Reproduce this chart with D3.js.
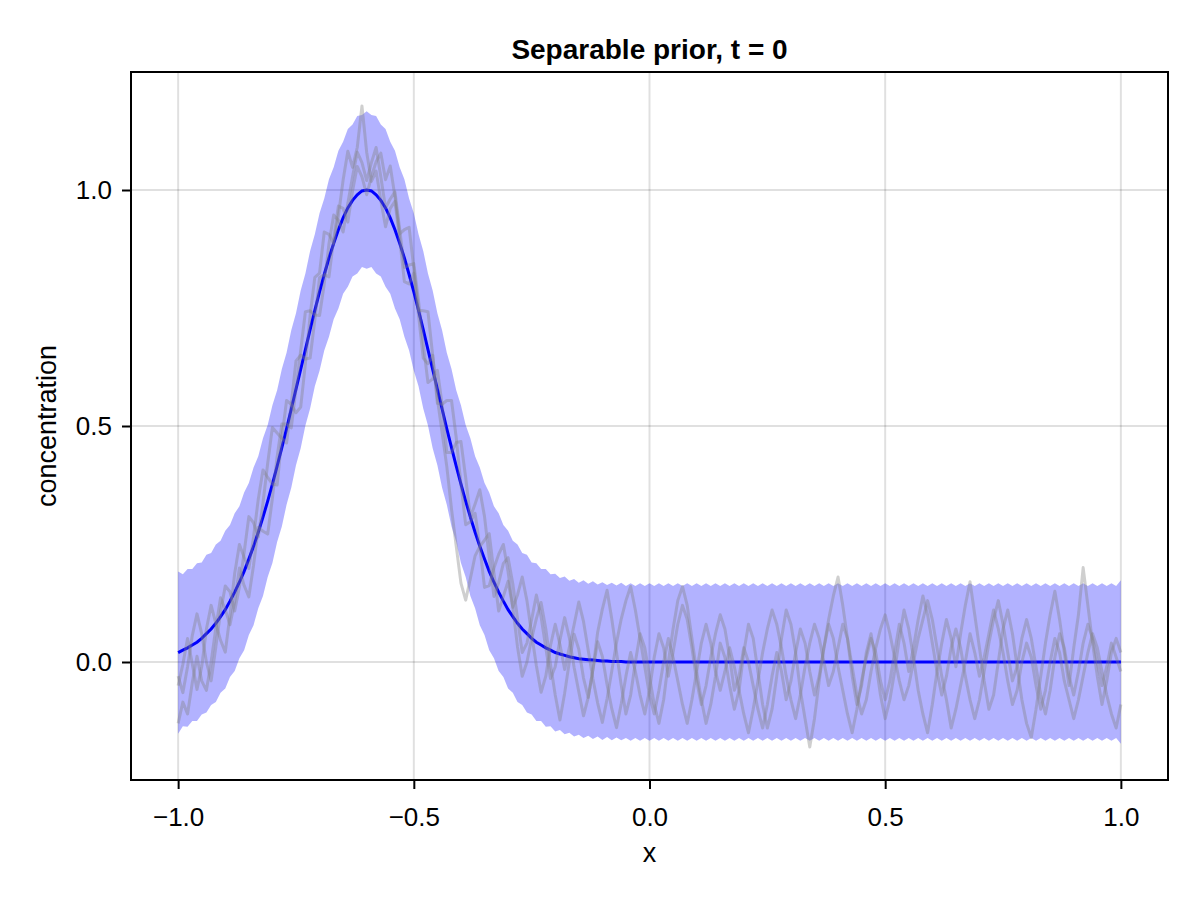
<!DOCTYPE html>
<html>
<head>
<meta charset="utf-8">
<script src="https://cdn.jsdelivr.net/npm/d3@7"></script>
<style>
  body { margin: 0; background: #fff; }
  text { font-family: "Liberation Sans", Arial, Helvetica, sans-serif; }
</style>
</head>
<body>
<script>
// x grid of the field, 201 nodes on [-1, 1]
const xGrid = d3.range(201).map(i => -1 + i * 0.01);

// prior mean
const meanValues = [
  0.020, 0.025, 0.030, 0.036, 0.042, 0.050, 0.060, 0.070, 0.082, 0.096,
  0.111, 0.129, 0.148, 0.169, 0.192, 0.218, 0.245, 0.275, 0.307, 0.341,
  0.377, 0.415, 0.454, 0.494, 0.536, 0.578, 0.620, 0.662, 0.704, 0.745,
  0.784, 0.821, 0.856, 0.887, 0.916, 0.941, 0.962, 0.978, 0.990, 0.998,
  1.000, 0.998, 0.990, 0.978, 0.962, 0.941, 0.916, 0.887, 0.856, 0.821,
  0.784, 0.745, 0.704, 0.662, 0.620, 0.578, 0.536, 0.494, 0.454, 0.415,
  0.377, 0.341, 0.307, 0.275, 0.245, 0.218, 0.192, 0.169, 0.148, 0.129,
  0.111, 0.096, 0.082, 0.070, 0.060, 0.050, 0.042, 0.036, 0.030, 0.025,
  0.020, 0.017, 0.014, 0.011, 0.009, 0.007, 0.006, 0.005, 0.004, 0.003,
  0.002, 0.002, 0.001, 0.001, 0.001, 0, 0, 0, 0, 0,
  0, 0, 0, 0, 0, 0, 0, 0, 0, 0,
  0, 0, 0, 0, 0, 0, 0, 0, 0, 0,
  0, 0, 0, 0, 0, 0, 0, 0, 0, 0,
  0, 0, 0, 0, 0, 0, 0, 0, 0, 0,
  0, 0, 0, 0, 0, 0, 0, 0, 0, 0,
  0, 0, 0, 0, 0, 0, 0, 0, 0, 0,
  0, 0, 0, 0, 0, 0, 0, 0, 0, 0,
  0, 0, 0, 0, 0, 0, 0, 0, 0, 0,
  0, 0, 0, 0, 0, 0, 0, 0, 0, 0,
  0, 0, 0, 0, 0, 0, 0, 0, 0, 0,
  0
];

// half width of the shaded band (zigzags node to node)
const bandHalfWidth = [
  0.172, 0.161, 0.167, 0.161, 0.167, 0.161, 0.167, 0.161, 0.167, 0.161,
  0.167, 0.161, 0.167, 0.161, 0.167, 0.161, 0.167, 0.161, 0.167, 0.161,
  0.167, 0.161, 0.167, 0.161, 0.167, 0.161, 0.167, 0.161, 0.167, 0.161,
  0.167, 0.161, 0.167, 0.161, 0.167, 0.161, 0.167, 0.161, 0.167, 0.161,
  0.167, 0.161, 0.167, 0.161, 0.167, 0.161, 0.167, 0.161, 0.167, 0.161,
  0.167, 0.161, 0.167, 0.161, 0.167, 0.161, 0.167, 0.161, 0.167, 0.161,
  0.167, 0.161, 0.167, 0.161, 0.167, 0.161, 0.167, 0.161, 0.167, 0.161,
  0.167, 0.161, 0.167, 0.161, 0.167, 0.161, 0.167, 0.161, 0.167, 0.161,
  0.167, 0.161, 0.167, 0.161, 0.167, 0.161, 0.167, 0.161, 0.167, 0.161,
  0.167, 0.161, 0.167, 0.161, 0.167, 0.161, 0.167, 0.161, 0.167, 0.161,
  0.167, 0.161, 0.167, 0.161, 0.167, 0.161, 0.167, 0.161, 0.167, 0.161,
  0.167, 0.161, 0.167, 0.161, 0.167, 0.161, 0.167, 0.161, 0.167, 0.161,
  0.167, 0.161, 0.167, 0.161, 0.167, 0.161, 0.167, 0.161, 0.167, 0.161,
  0.167, 0.161, 0.167, 0.161, 0.167, 0.161, 0.167, 0.161, 0.167, 0.161,
  0.167, 0.161, 0.167, 0.161, 0.167, 0.161, 0.167, 0.161, 0.167, 0.161,
  0.167, 0.161, 0.167, 0.161, 0.167, 0.161, 0.167, 0.161, 0.167, 0.161,
  0.167, 0.161, 0.167, 0.161, 0.167, 0.161, 0.167, 0.161, 0.167, 0.161,
  0.167, 0.161, 0.167, 0.161, 0.167, 0.161, 0.167, 0.161, 0.167, 0.161,
  0.167, 0.161, 0.167, 0.161, 0.167, 0.161, 0.167, 0.161, 0.167, 0.161,
  0.167, 0.161, 0.167, 0.161, 0.167, 0.161, 0.167, 0.161, 0.167, 0.161,
  0.173
];

// prior draws (grey lines)
const sampleA = [
  -0.050, -0.005, 0.050, -0.004, -0.058, -0.010, 0.070, 0.120, 0.082, 0.046,
  0.021, 0.099, 0.188, 0.249, 0.222, 0.198, 0.265, 0.345, 0.407, 0.391,
  0.377, 0.375, 0.474, 0.554, 0.546, 0.528, 0.540, 0.632, 0.734, 0.815,
  0.824, 0.911, 0.906, 0.887, 0.946, 1.021, 1.082, 1.048, 1.090, 1.178,
  1.080, 1.018, 1.040, 0.978, 0.922, 0.961, 0.976, 0.897, 0.806, 0.801,
  0.824, 0.735, 0.644, 0.632, 0.650, 0.558, 0.486, 0.414, 0.324, 0.245,
  0.167, 0.131, 0.177, 0.225, 0.245, 0.258, 0.272, 0.189, 0.108, 0.139,
  0.171, 0.116, 0.032, -0.030, 0.000, 0.050, 0.092, 0.126, 0.070, -0.005,
  -0.070, -0.123, -0.066, 0.001, 0.059, 0.027, -0.034, -0.075, -0.016, 0.063,
  0.112, 0.152, 0.091, 0.021, -0.049, -0.110, -0.070, 0.000, 0.060, 0.030,
  -0.03, -0.09, -0.13, -0.08, 0.00, 0.07, 0.13, 0.16, 0.12, 0.05,
  -0.02, -0.08, -0.13, -0.09, -0.03, 0.04, 0.01, -0.05, -0.10, -0.06,
  0.02, 0.08, 0.05, -0.02, -0.09, -0.14, -0.10, -0.03, 0.05, 0.11,
  0.08, 0.02, -0.06, -0.12, -0.18, -0.12, -0.04, 0.03, 0.09, 0.14,
  0.18, 0.12, 0.05, -0.03, -0.09, -0.05, 0.02, 0.06, 0.00, -0.07,
  -0.12, -0.08, -0.02, 0.05, 0.11, 0.07, 0.01, -0.06, -0.11, -0.15,
  -0.09, -0.02, 0.04, 0.09, 0.05, -0.01, 0.06, 0.12, 0.17, 0.10,
  0.03, -0.04, -0.10, -0.07, 0.00, 0.07, 0.11, 0.06, -0.01, -0.08,
  -0.13, -0.16, -0.10, -0.03, 0.04, 0.10, 0.15, 0.09, 0.02, -0.05,
  0.03, 0.10, 0.20, 0.12, 0.04, -0.03, -0.09, -0.04, 0.02, 0.05,
  0.02
];

const sampleB = [
  -0.130, -0.085, -0.110, -0.044, 0.012, -0.040, -0.060, 0.000, 0.072, 0.136,
  0.111, 0.079, 0.128, 0.199, 0.162, 0.138, 0.205, 0.285, 0.277, 0.271,
  0.347, 0.435, 0.504, 0.504, 0.496, 0.578, 0.660, 0.742, 0.744, 0.735,
  0.734, 0.801, 0.886, 0.947, 0.936, 0.911, 0.972, 1.028, 1.080, 1.058,
  1.020, 1.058, 1.090, 1.028, 0.962, 0.981, 0.996, 0.917, 0.836, 0.841,
  0.844, 0.765, 0.674, 0.592, 0.600, 0.618, 0.546, 0.444, 0.444, 0.465,
  0.467, 0.391, 0.307, 0.335, 0.365, 0.308, 0.222, 0.139, 0.168, 0.209,
  0.221, 0.166, 0.092, 0.020, 0.040, 0.090, 0.142, 0.096, 0.030, -0.035,
  -0.010, 0.047, 0.094, 0.051, -0.011, -0.063, -0.114, -0.075, -0.016, 0.043,
  0.012, -0.048, -0.099, -0.139, -0.089, -0.03, 0.02, -0.02, -0.07, -0.11,
  -0.06, 0.01, 0.06, 0.03, -0.03, 0.02, 0.08, 0.12, 0.09, 0.03,
  -0.04, -0.09, -0.05, 0.01, 0.06, 0.10, 0.07, 0.01, -0.06, -0.03,
  0.03, 0.00, -0.05, -0.10, -0.14, -0.09, -0.03, 0.02, -0.02, -0.08,
  -0.04, 0.02, 0.07, 0.04, -0.02, -0.07, -0.03, 0.03, 0.08, 0.05,
  -0.01, -0.06, -0.11, -0.15, -0.10, -0.04, 0.01, 0.05, 0.02, -0.04,
  -0.08, -0.04, 0.02, 0.08, 0.04, -0.02, 0.03, 0.09, 0.14, 0.10,
  0.04, -0.02, -0.07, -0.03, 0.03, 0.07, 0.03, -0.03, -0.08, -0.12,
  -0.08, -0.02, 0.04, 0.09, 0.13, 0.08, 0.02, -0.04, -0.01, 0.05,
  0.09, 0.05, -0.01, -0.07, -0.11, -0.06, 0.01, 0.06, 0.03, -0.03,
  -0.07, -0.02, 0.04, 0.08, 0.05, 0.00, -0.05, -0.01, 0.04, 0.01,
  -0.02
];

const sampleC = [
  -0.030, -0.065, -0.010, 0.056, 0.102, 0.060, 0.000, -0.040, 0.032, 0.106,
  0.161, 0.149, 0.108, 0.159, 0.232, 0.308, 0.295, 0.265, 0.337, 0.421,
  0.497, 0.485, 0.474, 0.464, 0.546, 0.638, 0.650, 0.642, 0.644, 0.725,
  0.814, 0.821, 0.816, 0.897, 0.966, 0.961, 0.932, 0.998, 1.050, 1.028,
  0.990, 1.028, 1.060, 1.078, 1.022, 1.051, 0.986, 0.907, 0.916, 0.921,
  0.834, 0.745, 0.744, 0.742, 0.650, 0.548, 0.546, 0.554, 0.554, 0.475,
  0.377, 0.291, 0.297, 0.315, 0.245, 0.158, 0.162, 0.199, 0.228, 0.249,
  0.191, 0.116, 0.142, 0.180, 0.130, 0.060, -0.008, -0.064, -0.030, 0.035,
  0.080, 0.037, -0.016, 0.031, 0.079, 0.127, 0.086, 0.025, -0.036, -0.087,
  -0.128, -0.078, -0.019, 0.041, 0.091, 0.13, 0.16, 0.11, 0.05, -0.01,
  -0.07, -0.11, -0.06, 0.00, 0.05, 0.01, -0.04, -0.09, -0.13, -0.08,
  -0.02, 0.04, 0.08, 0.04, -0.02, -0.06, -0.02, 0.03, -0.01, -0.06,
  -0.11, -0.15, -0.10, -0.04, 0.02, 0.07, 0.11, 0.08, 0.03, -0.03,
  -0.08, -0.12, -0.07, -0.01, 0.04, 0.08, 0.05, 0.00, -0.05, -0.02,
  0.03, 0.08, 0.05, -0.01, -0.07, -0.11, -0.08, -0.02, 0.03, 0.07,
  0.10, 0.06, 0.01, -0.04, -0.08, -0.05, 0.00, 0.05, 0.09, 0.13,
  0.09, 0.03, -0.03, -0.08, -0.14, -0.10, -0.05, 0.00, 0.06, 0.02,
  -0.03, 0.01, 0.06, 0.11, 0.07, 0.02, -0.04, -0.09, -0.06, 0.00,
  0.04, 0.01, -0.05, -0.10, -0.06, 0.00, 0.05, 0.02, -0.04, -0.08,
  -0.12, -0.08, -0.03, 0.02, 0.06, 0.03, -0.02, -0.07, -0.11, -0.14,
  -0.09
];

const samples = [sampleA, sampleB, sampleC];

const xTicks = [-1, -0.5, 0, 0.5, 1];
const xTickLabels = ["\u22121.0", "\u22120.5", "0.0", "0.5", "1.0"];
const yTicks = [0, 0.5, 1];
const yTickLabels = ["0.0", "0.5", "1.0"];

const width = 1200, height = 900;
const margin = {top: 72, right: 32, bottom: 120, left: 131};
const innerW = width - margin.left - margin.right;
const innerH = height - margin.top - margin.bottom;

const svg = d3.select("body")
  .append("svg")
    .attr("width", width)
    .attr("height", height)
    .style("background", "#fff");

const x = d3.scaleLinear().domain([-1.1, 1.1]).range([0, innerW]);
const y = d3.scaleLinear().domain([-0.25, 1.25]).range([innerH, 0]);

const g = svg.append("g")
  .attr("transform", "translate(" + margin.left + "," + margin.top + ")");

g.append("clipPath").attr("id", "plot-clip")
  .append("rect").attr("width", innerW).attr("height", innerH);

// grid
g.append("g").selectAll("line")
  .data(xTicks)
  .enter().append("line")
    .attr("x1", d => x(d)).attr("x2", d => x(d))
    .attr("y1", 0).attr("y2", innerH)
    .attr("stroke", "rgba(0,0,0,0.12)")
    .attr("stroke-width", 2);

g.append("g").selectAll("line")
  .data(yTicks)
  .enter().append("line")
    .attr("x1", 0).attr("x2", innerW)
    .attr("y1", d => y(d)).attr("y2", d => y(d))
    .attr("stroke", "rgba(0,0,0,0.12)")
    .attr("stroke-width", 2);

const plot = g.append("g").attr("clip-path", "url(#plot-clip)");

// band: mean +/- half width
const band = d3.area()
  .x((d, i) => x(xGrid[i]))
  .y0((d, i) => y(meanValues[i] - bandHalfWidth[i]))
  .y1((d, i) => y(meanValues[i] + bandHalfWidth[i]));

plot.append("path")
  .datum(meanValues)
  .attr("d", band)
  .attr("fill", "rgba(0,0,255,0.3)");

const line = d3.line()
  .x((d, i) => x(xGrid[i]))
  .y(d => y(d));

plot.append("path")
  .datum(meanValues)
  .attr("d", line)
  .attr("fill", "none")
  .attr("stroke", "#0000ff")
  .attr("stroke-width", 3);

plot.selectAll(".sample")
  .data(samples)
  .enter().append("path")
    .attr("class", "sample")
    .attr("d", line)
    .attr("fill", "none")
    .attr("stroke", "rgba(128,128,128,0.38)")
    .attr("stroke-width", 3)
    .attr("stroke-linejoin", "round");

// frame
g.append("rect")
  .attr("width", innerW)
  .attr("height", innerH)
  .attr("fill", "none")
  .attr("stroke", "#000")
  .attr("stroke-width", 2);

// axes
const xAxis = g.append("g")
  .attr("transform", "translate(0," + innerH + ")")
  .call(d3.axisBottom(x)
    .tickValues(xTicks)
    .tickFormat((d, i) => xTickLabels[i])
    .tickSize(9)
    .tickPadding(19));

const yAxis = g.append("g")
  .call(d3.axisLeft(y)
    .tickValues(yTicks)
    .tickFormat((d, i) => yTickLabels[i])
    .tickSize(9)
    .tickPadding(10));

[xAxis, yAxis].forEach(function(ax) {
  ax.select(".domain").remove();
  ax.selectAll(".tick line").attr("stroke", "#000").attr("stroke-width", 2);
  ax.selectAll(".tick text")
    .attr("fill", "#000")
    .style("font-size", "26px")
    .style("font-family", "'Liberation Sans', Arial, sans-serif");
});

// labels
svg.append("text")
  .attr("x", margin.left + innerW / 2)
  .attr("y", 59)
  .attr("text-anchor", "middle")
  .style("font-size", "28px")
  .style("font-weight", "bold")
  .text("Separable prior, t = 0");

svg.append("text")
  .attr("x", margin.left + innerW / 2)
  .attr("y", 862)
  .attr("text-anchor", "middle")
  .style("font-size", "27px")
  .text("x");

svg.append("text")
  .attr("transform", "translate(56," + (margin.top + innerH / 2) + ") rotate(-90)")
  .attr("text-anchor", "middle")
  .style("font-size", "27px")
  .text("concentration");
</script>
</body>
</html>
